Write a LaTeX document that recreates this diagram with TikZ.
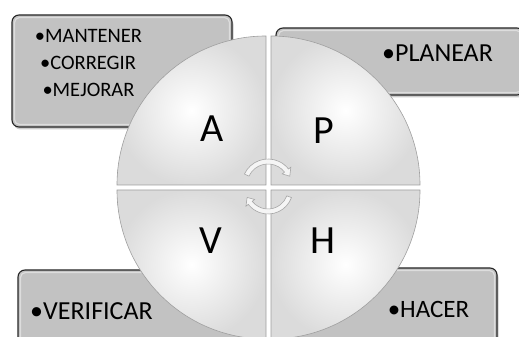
\documentclass[tikz,border=0pt]{standalone}
\usepackage{fontspec}
\setmainfont{Carlito}
\usetikzlibrary{shadows}
\begin{document}
\begin{tikzpicture}[x=1pt,y=1pt,
  infobox/.style={draw=black!85, line width=1.1pt, fill=gray!48, rounded corners=7pt,
    drop shadow={shadow xshift=1.5pt, shadow yshift=-2.5pt, opacity=0.4}},
  innerrim/.style={draw=white, draw opacity=0.45, line width=1.2pt, rounded corners=5pt},
  quad/.style={draw=gray!75, line width=0.6pt, inner color=white, outer color=gray!28},
  cyc/.style={draw=gray!70, line width=0.6pt, fill=gray!8},
  letter/.style={font=\fontsize{40}{48}\selectfont, inner sep=0pt},
  boxtext/.style={font=\fontsize{20.5}{24}\selectfont, anchor=base, inner sep=0pt},
  bigtext/.style={font=\fontsize{26}{30}\selectfont, anchor=base, inner sep=0pt}
]
\useasboundingbox (0,0) rectangle (519,337);
\clip (0,0) rectangle (519,337);
% side boxes
\path[infobox] (12,210) rectangle (232,322);
\path[innerrim] (14.5,212.5) rectangle (229.5,319.5);
\path[infobox] (276,242) rectangle (524,309);
\path[innerrim] (278.5,244.5) rectangle (521.5,306.5);
\path[infobox] (18,-12) rectangle (250,67);
\path[innerrim] (20.5,-9.5) rectangle (247.5,64.5);
\path[infobox] (290,-12) rectangle (497,69);
\path[innerrim] (292.5,-9.5) rectangle (494.5,66.5);
% quadrants
\shade[quad] (266,152) -- (117,152) arc[start angle=180,end angle=90,radius=149] -- cycle;
\shade[quad] (271,152) -- (271,301) arc[start angle=90,end angle=0,radius=149] -- cycle;
\shade[quad] (266,147) -- (117,147) arc[start angle=180,end angle=270,radius=149] -- cycle;
\shade[quad] (271,147) -- (420,147) arc[start angle=0,end angle=-90,radius=149] -- cycle;
% cycle arrows
\begin{scope}[shift={(268,152)}]
  \path[cyc] (155:26pt) arc[start angle=155,end angle=38,radius=26pt] -- (38:29pt) -- (22:23.5pt)
    -- (38:18pt) -- (38:21pt) arc[start angle=38,end angle=155,radius=21pt] -- cycle;
\end{scope}
\begin{scope}[shift={(268,148)}]
  \path[cyc] (-20:25pt) arc[start angle=-20,end angle=-142,radius=25pt] -- (-142:28pt) -- (-158:22.5pt)
    -- (-142:17pt) -- (-142:20pt) arc[start angle=-142,end angle=-20,radius=20pt] -- cycle;
\end{scope}
% letters
\node[letter] (la) at (212,208) {A};
\node[letter] (lp) at (324,206) {P};
\node[letter] (lv) at (211,96) {V};
\node[letter] (lh) at (323,96) {H};
% box texts
\node[boxtext] (t1) at (88.5,294) {•MANTENER};
\node[boxtext] (t2) at (88,267) {•CORREGIR};
\node[boxtext] (t3) at (88.5,240) {•MEJORAR};
\node[bigtext] (t4) at (437.5,275) {•PLANEAR};
\node[bigtext] (t5) at (91.5,17) {•VERIFICAR};
\node[bigtext, font=\fontsize{25}{30}\selectfont] (t6) at (428.5,19) {•HACER};
\end{tikzpicture}
\end{document}
